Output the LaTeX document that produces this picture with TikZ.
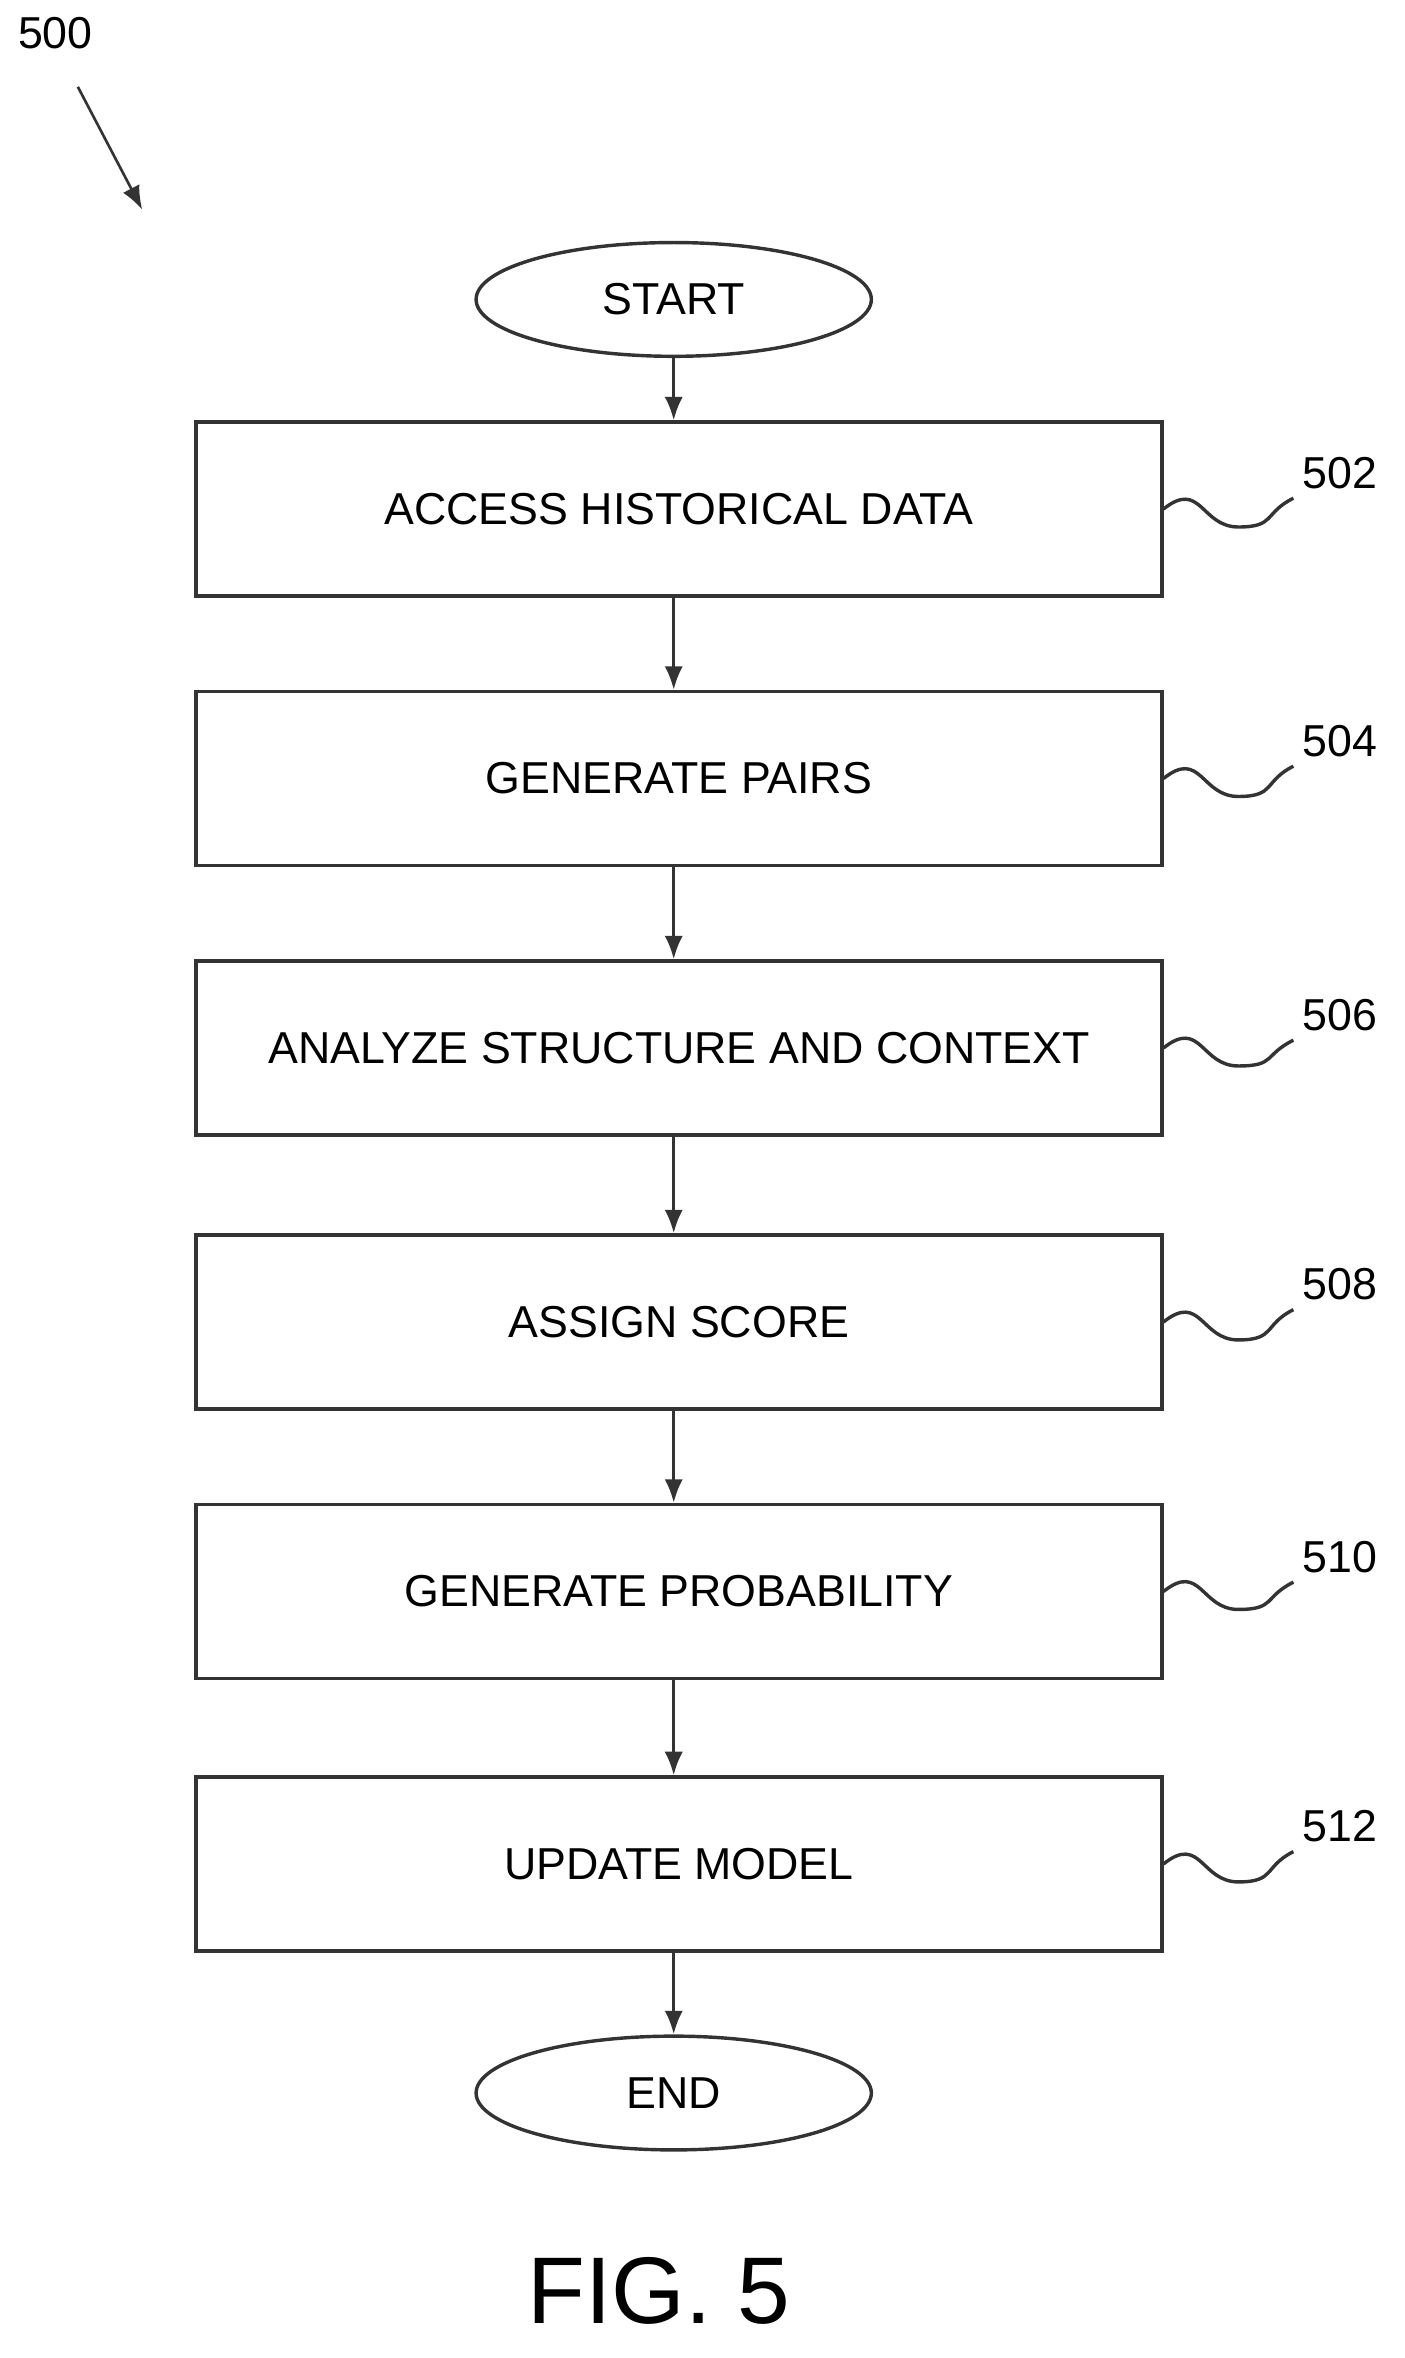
\documentclass[tikz,border=0pt]{standalone}
\usepackage{fontspec}
\setmainfont{Liberation Sans}
\usetikzlibrary{shapes.geometric,arrows.meta}

\tikzset{
  stepbox/.style={draw=black!80,line width=1.3pt,minimum width=645*0.02cm,minimum height=116*0.02cm,font=\fontsize{17}{20}\selectfont},
  term/.style={ellipse,draw=black!80,line width=1.3pt,minimum width=264*0.02cm,minimum height=76*0.02cm,font=\fontsize{17}{20}\selectfont},
  flow/.style={-{Latex[length=9pt,width=7pt]},draw=black!80,line width=1.3pt},
  ref/.style={font=\fontsize{17}{20}\selectfont},
  squig/.style={draw=black!80,line width=1.3pt},
}

\begin{document}
\begin{tikzpicture}[x=0.02cm,y=-0.02cm]
		\useasboundingbox (0,0) rectangle (938,1575);
		%noeuds du diagramme
		\node (start) at(450, 200) [term] {START} ;
		\node (access) at(453.5, 340) [stepbox] {ACCESS HISTORICAL DATA} ;
		\node (pairs) at(453.5, 520) [stepbox] {GENERATE PAIRS} ;
		\node (analyze) at(453.5, 700) [stepbox] {ANALYZE STRUCTURE AND CONTEXT} ;
		\node (score) at(453.5, 883) [stepbox] {ASSIGN SCORE} ;
		\node (prob) at(453.5, 1063) [stepbox] {GENERATE PROBABILITY} ;
		\node (update) at(453.5, 1245) [stepbox] {UPDATE MODEL} ;
		\node (end) at(450, 1398) [term] {END} ;
		\node (fig) at(440, 1530) [font=\fontsize{36}{40}\selectfont] {FIG. 5} ;

		%fleches
		\path
		(start) edge[flow] (start |- access.north)
		(start |- access.south) edge[flow] (start |- pairs.north)
		(start |- pairs.south) edge[flow] (start |- analyze.north)
		(start |- analyze.south) edge[flow] (start |- score.north)
		(start |- score.south) edge[flow] (start |- prob.north)
		(start |- prob.south) edge[flow] (start |- update.north)
		(start |- update.south) edge[flow] (end)
		;

		%numeros de reference
		\node (lab 500) at(37, 22) [ref] {500} ;
		\coordinate (tip 500) at(95, 140) ;
		\draw[flow,line width=1pt] (52, 58) -- (tip 500);
		\foreach \n/\b/\y in {502/access/316, 504/pairs/495, 506/analyze/678, 508/score/858, 510/prob/1040, 512/update/1220}
		{
			\node (lab \n) at(895, \y) [ref] {\n} ;
			\draw[squig] (\b.east) .. controls +(25,-20) and +(-25,0) .. +(50,12) .. controls +(25,0) and +(-20,10) .. (lab \n.south west);
		}
	\end{tikzpicture}
\end{document}
